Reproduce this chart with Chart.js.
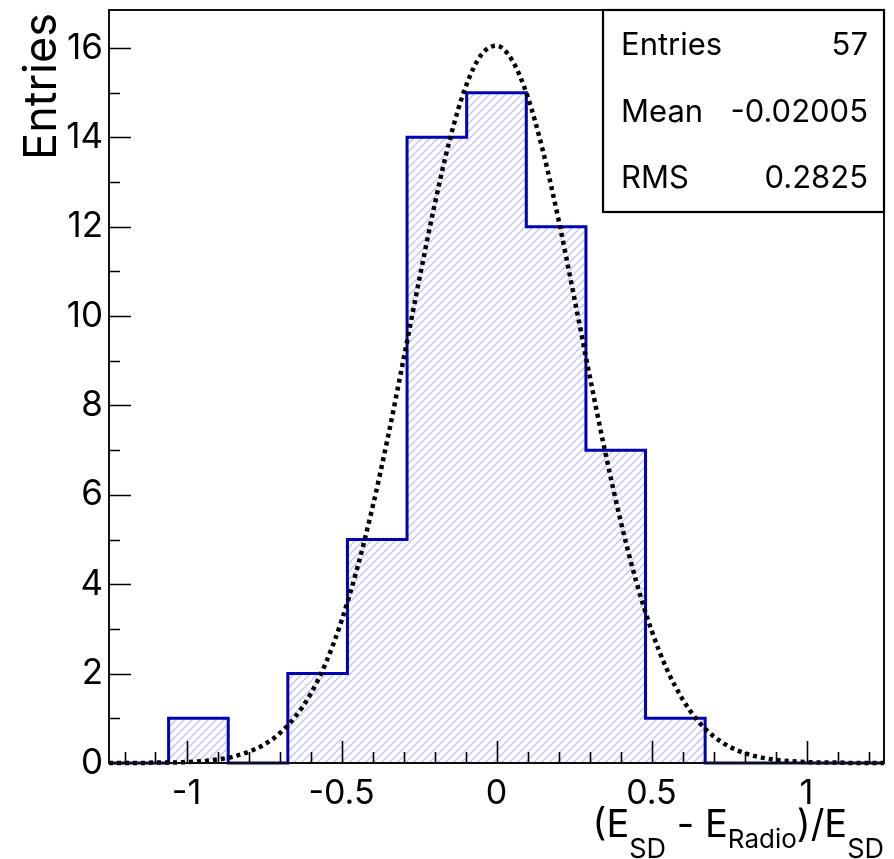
<!DOCTYPE html>
<html><head><meta charset="utf-8">
<script src="https://cdn.jsdelivr.net/npm/chart.js@4/dist/chart.umd.min.js"></script>
<style>html,body{margin:0;padding:0;background:#fff}canvas{display:block}</style>
</head><body>
<canvas id="c" width="894" height="859"></canvas>
<script>
// ---- data ----
const binEdges = [-1.25, -1.0577, -0.8654, -0.6731, -0.4808, -0.2885, -0.0962, 0.0962, 0.2885, 0.4808, 0.6731, 0.8654, 1.0577, 1.25];
const binCounts = [0, 1, 0, 2, 5, 14, 15, 12, 7, 1, 0, 0, 0];
const fitX = [-1.25,-1.2,-1.15,-1.1,-1.05,-1.0,-0.95,-0.9,-0.85,-0.8,-0.75,-0.7,-0.65,-0.6,-0.55,-0.5,-0.45,-0.4,-0.35,-0.3,-0.25,-0.2,-0.15,-0.1,-0.05,0,0.05,0.1,0.15,0.2,0.25,0.3,0.35,0.4,0.45,0.5,0.55,0.6,0.65,0.7,0.75,0.8,0.85,0.9,0.95,1.0,1.05,1.1,1.15,1.2,1.25];
const fitY = [0.00,0.00,0.00,0.01,0.01,0.02,0.04,0.08,0.14,0.25,0.41,0.66,1.03,1.54,2.25,3.18,4.34,5.72,7.30,9.03,10.79,12.48,13.97,15.12,15.84,16.05,15.73,14.92,13.69,12.16,10.44,8.68,6.98,5.43,4.08,2.97,2.09,1.43,0.94,0.60,0.37,0.22,0.13,0.07,0.04,0.02,0.01,0.01,0.00,0.00,0.00];
const xTickValues = [-1, -0.5, 0, 0.5, 1];
const xTickLabels = ['-1', '-0.5', '0', '0.5', '1'];
const yTickValues = [0, 2, 4, 6, 8, 10, 12, 14, 16];
const yTickLabels = ['0', '2', '4', '6', '8', '10', '12', '14', '16'];
const statsNames = ['Entries', 'Mean', 'RMS'];
const statsValues = ['57', '-0.02005', '0.2825'];
const yTitle = 'Entries';
const xTitleParts = [['(E', 0], ['SD', 1], [' - E', 0], ['Radio', 2], [')/E', 0], ['SD', 1]];

const FONT = 'Inter, "Liberation Sans", Arial, sans-serif';

function hatchPattern(ctx) {
  const s = 8;
  const c = document.createElement('canvas');
  c.width = s; c.height = s;
  const g = c.getContext('2d');
  g.fillStyle = '#fcfcff';
  g.fillRect(0, 0, s, s);
  g.strokeStyle = '#cdcdf4';
  g.lineWidth = 1.6;
  g.beginPath();
  for (let k = -1; k <= 1; k++) { g.moveTo(k * s, s); g.lineTo(k * s + s, 0); }
  g.stroke();
  return ctx.createPattern(c, 'repeat');
}

const decor = {
  id: 'decor',
  afterDatasetsDraw(chart) {
    const { ctx, chartArea: a, scales: { x, y } } = chart;
    ctx.save();
    // ticks (inward)
    ctx.strokeStyle = '#000';
    ctx.lineWidth = 1.6;
    ctx.beginPath();
    for (let i = -12; i <= 12; i++) {
      const v = i / 10;
      const px = Math.round(x.getPixelForValue(v)) + 0.5;
      const len = (i % 5 === 0) ? 22 : 11;
      ctx.moveTo(px, a.bottom); ctx.lineTo(px, a.bottom - len);
    }
    for (let v = 0; v <= 16; v++) {
      const py = Math.round(y.getPixelForValue(v)) + 0.5;
      const len = (v % 2 === 0) ? 22 : 11;
      ctx.moveTo(a.left, py); ctx.lineTo(a.left + len, py);
    }
    ctx.stroke();
    // frame
    ctx.strokeStyle = '#111';
    ctx.lineWidth = 2;
    ctx.strokeRect(a.left, a.top, a.right - a.left, a.bottom - a.top);

    // stats box
    const bx = a.right - 281, by = a.top, bw = 281, bh = 202;
    ctx.fillStyle = '#fff';
    ctx.fillRect(bx, by, bw, bh);
    ctx.strokeStyle = '#000';
    ctx.lineWidth = 2.2;
    ctx.strokeRect(bx, by, bw, bh);
    ctx.fillStyle = '#000';
    ctx.font = '31px ' + FONT;
    ctx.textBaseline = 'alphabetic';
    const rows = [55, 122, 188];
    statsNames.forEach((n, i) => {
      ctx.textAlign = 'left';
      ctx.fillText(n, bx + 18, rows[i]);
      ctx.textAlign = 'right';
      ctx.fillText(statsValues[i], bx + bw - 16, rows[i]);
    });

    // y title
    ctx.save();
    ctx.translate(56, 13);
    ctx.rotate(-Math.PI / 2);
    ctx.font = '45px ' + FONT;
    ctx.textAlign = 'right';
    ctx.fillText(yTitle, 0, 0);
    ctx.restore();

    // x title with subscripts
    const fonts = ['38px ' + FONT, '27px ' + FONT, '26px ' + FONT];
    const bases = [837, 858, 848];
    let total = 0;
    xTitleParts.forEach(p => { ctx.font = fonts[p[1]]; total += ctx.measureText(p[0]).width; });
    let cx = 884 - total;
    ctx.textAlign = 'left';
    xTitleParts.forEach(p => {
      ctx.font = fonts[p[1]];
      ctx.fillText(p[0], cx, bases[p[1]]);
      cx += ctx.measureText(p[0]).width;
    });
    ctx.restore();
  }
};

const ctx = document.getElementById('c').getContext('2d');
new Chart(ctx, {
  type: 'scatter',
  data: {
    datasets: [
      {
        label: 'fit',
        data: fitX.map((v, i) => ({ x: v, y: fitY[i] })),
        showLine: true,
        borderColor: '#000',
        borderWidth: 4.5,
        borderDash: [4, 4],
        pointRadius: 0,
        cubicInterpolationMode: 'monotone',
        fill: false,
        clip: false,
        order: 0
      },
      {
        label: 'hist',
        data: binEdges.map((v, i) => ({ x: v, y: binCounts[Math.min(i, binCounts.length - 1)] })),
        showLine: true,
        stepped: true,
        borderColor: '#0000b4',
        borderWidth: 3,
        backgroundColor: hatchPattern(ctx),
        fill: 'origin',
        pointRadius: 0,
        clip: false,
        order: 1
      }
    ]
  },
  options: {
    responsive: false,
    animation: false,
    devicePixelRatio: 1,
    layout: { padding: { top: 10, right: 10, left: 0, bottom: 0 } },
    plugins: { legend: { display: false }, tooltip: { enabled: false } },
    scales: {
      x: {
        type: 'linear', min: -1.25, max: 1.25,
        grid: { display: false, drawTicks: false },
        border: { display: false },
        ticks: {
          font: { family: FONT, size: 34 }, color: '#000', padding: 10,
          maxRotation: 0, autoSkip: false,
          callback: v => { const i = xTickValues.indexOf(v); return i >= 0 ? xTickLabels[i] : ''; }
        },
        afterBuildTicks: s => { s.ticks = xTickValues.map(v => ({ value: v })); },
        afterFit: s => { s.height = 96; s.paddingLeft = 0; s.paddingRight = 0; }
      },
      y: {
        type: 'linear', min: 0, max: 16.85,
        grid: { display: false, drawTicks: false },
        border: { display: false },
        ticks: {
          font: { family: FONT, size: 35 }, color: '#000', padding: 6,
          callback: v => { const i = yTickValues.indexOf(v); return i >= 0 ? yTickLabels[i] : ''; }
        },
        afterBuildTicks: s => { s.ticks = yTickValues.map(v => ({ value: v })); },
        afterFit: s => { s.width = 109; s.paddingTop = 0; s.paddingBottom = 0; }
      }
    }
  },
  plugins: [decor]
});
</script>
</body></html>
